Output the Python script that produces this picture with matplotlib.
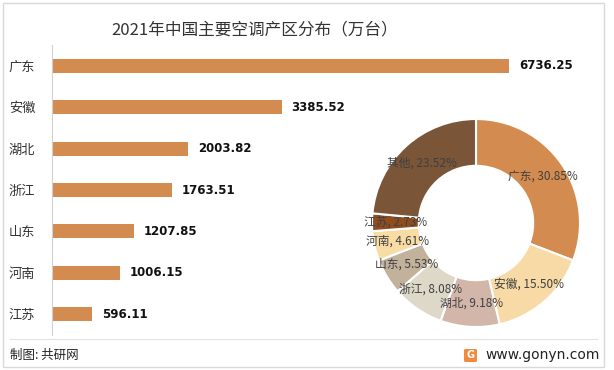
import matplotlib
matplotlib.use("Agg")
import matplotlib.pyplot as plt
from matplotlib.patches import Rectangle, FancyBboxPatch

plt.rcParams['font.family'] = ['Noto Sans CJK SC', 'DejaVu Sans']

title = "2021年中国主要空调产区分布（万台）"
provinces = ["广东", "安徽", "湖北", "浙江", "山东", "河南", "江苏"]
values = [6736.25, 3385.52, 2003.82, 1763.51, 1207.85, 1006.15, 596.11]

pie_names = ["广东", "安徽", "湖北", "浙江", "山东", "河南", "江苏", "其他"]
pie_pcts = [30.85, 15.50, 9.18, 8.08, 5.53, 4.61, 2.73, 23.52]
pie_colors = ["#D38B4F", "#F8DAA6", "#D3B6AA", "#DDD8C8", "#C2B19B",
              "#F9DCA3", "#8F4C1E", "#7B5538"]
bar_color = "#D38B4F"

W, H = 614, 370
fig = plt.figure(figsize=(W / 100, H / 100), dpi=100)
fig.patch.set_facecolor("white")

def fx(px):
    return px / W

def fy(py):
    return 1 - py / H

# outer border
fig.add_artist(Rectangle((fx(3), fy(367)), fx(601), (364) / H,
                         transform=fig.transFigure, fill=False,
                         edgecolor="#D9D9D9", linewidth=1))
# footer separator
fig.add_artist(plt.Line2D([fx(10), fx(597)], [fy(339), fy(339)],
                          transform=fig.transFigure, color="#E3E3E3", linewidth=0.8))

# title
fig.text(fx(255), fy(30), title, ha="center", va="center", fontsize=12, color="#333333")

# bar chart
axb = fig.add_axes([fx(52), fy(335), fx(543), 290 / H])
ypos = list(range(len(provinces)))
axb.barh(ypos, values, height=0.34, color=bar_color)
axb.set_ylim(len(provinces) - 0.5, -0.5)
axb.set_xlim(0, 8000)
axb.set_yticks(ypos)
axb.set_yticklabels(provinces, fontsize=9.5, color="#333333")
axb.tick_params(axis="y", length=0, pad=12)
axb.set_xticks([])
for s in ["top", "right", "bottom"]:
    axb.spines[s].set_visible(False)
axb.spines["left"].set_color("#D0D0D0")
axb.patch.set_alpha(0)
for y, v in zip(ypos, values):
    axb.annotate(f"{v:.2f}", (v, y), xytext=(7, 0), textcoords="offset points",
                 ha="left", va="center", fontsize=8.5, fontweight="bold",
                 color="#111111", family="DejaVu Sans")

# donut
cx, cy, r = 476, 223, 104
axp = fig.add_axes([fx(cx - r), fy(cy + r), fx(2 * r), 2 * r / H])
labels = [f"{n}, {p:.2f}%" for n, p in zip(pie_names, pie_pcts)]
wedges, texts = axp.pie(pie_pcts, labels=labels, colors=pie_colors, startangle=90,
                        counterclock=False, radius=1, labeldistance=0.775,
                        wedgeprops=dict(width=0.45, edgecolor="white", linewidth=1.5),
                        textprops=dict(fontsize=8.5, color="#404040"))
for t in texts:
    t.set_ha("center")
    t.set_va("center")
axp.set_xlim(-1, 1)
axp.set_ylim(-1, 1)
axp.set_aspect("equal")
axp.axis("off")

# footer
fig.text(fx(10), fy(355), "制图: 共研网", ha="left", va="center", fontsize=9, color="#222222")
fig.add_artist(FancyBboxPatch((fx(464), fy(362)), fx(13), 13 / H,
                              boxstyle="round,pad=0,rounding_size=0.003",
                              transform=fig.transFigure, facecolor="#F08A3C",
                              edgecolor="none"))
fig.text(fx(470.5), fy(355.5), "G", ha="center", va="center", fontsize=7,
         color="white", fontweight="bold", family="DejaVu Sans")
fig.text(fx(600), fy(355), "www.gonyn.com", ha="right", va="center", fontsize=10,
         color="#222222", family="DejaVu Sans")

fig.savefig("out.png", dpi=100)
